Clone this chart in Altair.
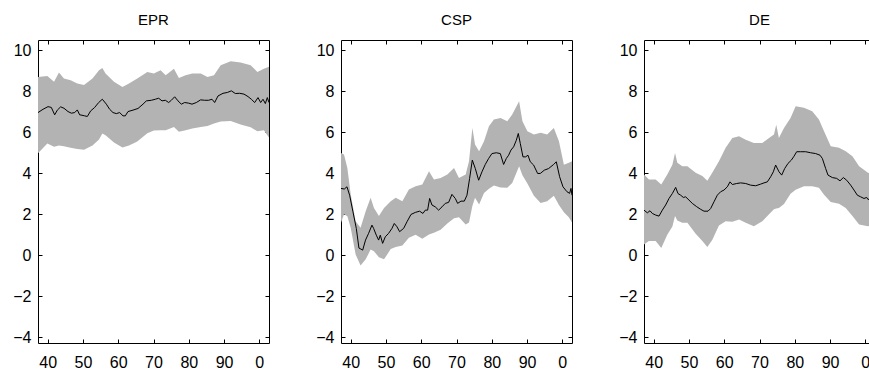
import altair as alt
import pandas as pd

# ---------------- data ----------------
EPR_LINE_YEAR = [1937.25, 1938.67, 1940.09, 1941.03, 1941.98, 1942.73, 1943.68, 1944.62, 1945.76, 1946.70,
                 1947.65, 1948.40, 1949.06, 1949.73, 1950.48, 1951.24, 1952.18, 1953.32, 1954.45, 1955.49,
                 1956.63, 1957.57, 1958.52, 1959.46, 1960.41, 1961.35, 1962.01, 1962.77, 1964.19, 1965.61,
                 1967.02, 1967.97, 1969.39, 1970.52, 1971.47, 1972.41, 1973.36, 1974.30, 1975.06, 1976.00,
                 1976.95, 1977.89, 1978.84, 1979.97, 1980.92, 1982.15, 1983.37, 1984.51, 1985.64, 1986.59,
                 1987.34, 1988.29, 1989.71, 1990.94, 1992.07, 1993.21, 1994.43, 1995.66, 1996.80, 1997.74,
                 1998.69, 1999.63, 2000.39, 2001.05, 2001.71, 2002.28, 2002.75]
EPR_LINE_VAL = [6.96, 7.12, 7.25, 7.21, 6.85, 7.08, 7.24, 7.17, 7.01, 6.93,
                6.96, 7.09, 6.85, 6.83, 6.80, 6.77, 7.04, 7.21, 7.45, 7.61,
                7.37, 7.12, 6.96, 6.91, 6.96, 6.80, 6.80, 7.01, 7.08, 7.16,
                7.37, 7.53, 7.56, 7.61, 7.66, 7.53, 7.56, 7.45, 7.56, 7.73,
                7.53, 7.37, 7.45, 7.42, 7.37, 7.45, 7.58, 7.56, 7.56, 7.61,
                7.45, 7.77, 7.90, 7.94, 8.02, 7.89, 7.90, 7.86, 7.74, 7.61,
                7.45, 7.69, 7.45, 7.61, 7.40, 7.69, 7.45]
EPR_BAND_YEAR = [1937.25, 1939.9, 1941.8, 1943.2, 1944.6, 1946.5, 1948.4, 1950.3, 1952.7, 1954.55,
                 1955.5, 1956.4, 1958.8, 1961.2, 1963.05, 1965.4, 1968.25, 1970.1, 1972.0, 1973.45,
                 1975.8, 1977.2, 1979.1, 1981.0, 1983.4, 1985.3, 1987.15, 1989.05, 1991.9, 1994.7,
                 1997.55, 1999.45, 2001.3, 2002.75]
EPR_BAND_HI = [8.70, 8.75, 8.46, 8.91, 8.62, 8.54, 8.38, 8.30, 8.62, 9.03,
               9.14, 8.86, 8.46, 8.21, 8.38, 8.62, 8.94, 8.86, 9.03, 8.78,
               9.10, 8.65, 8.78, 8.86, 8.86, 8.70, 8.78, 9.27, 9.46, 9.40,
               9.27, 8.94, 9.10, 9.19]
EPR_BAND_LO = [4.97, 5.45, 5.29, 5.35, 5.32, 5.25, 5.18, 5.15, 5.35, 5.65,
               5.94, 5.85, 5.50, 5.26, 5.35, 5.55, 5.95, 6.08, 6.10, 6.10,
               6.26, 6.02, 6.10, 6.18, 6.26, 6.30, 6.43, 6.52, 6.55, 6.38,
               6.25, 6.05, 6.10, 5.75]

CSP_LINE_YEAR = [1937.25, 1938.18, 1938.94, 1939.70, 1940.64, 1941.59, 1942.34, 1942.91, 1943.40, 1944.20,
                 1945.08, 1946.03, 1946.50, 1947.26, 1947.92, 1948.39, 1949.05, 1949.81, 1950.75, 1951.70,
                 1952.36, 1953.12, 1953.87, 1955.01, 1955.95, 1957.09, 1958.32, 1959.54, 1960.49, 1961.15,
                 1961.81, 1962.38, 1963.04, 1963.99, 1964.93, 1965.88, 1966.82, 1967.77, 1968.71, 1969.66,
                 1970.32, 1971.27, 1972.21, 1972.97, 1973.72, 1974.48, 1975.33, 1976.28, 1977.22, 1978.16,
                 1979.11, 1980.05, 1981.28, 1982.42, 1983.36, 1984.12, 1984.78, 1985.44, 1986.20, 1986.96,
                 1987.52, 1988.09, 1988.85, 1989.60, 1990.26, 1990.92, 1991.87, 1993.00, 1993.76, 1994.89,
                 1996.12, 1997.54, 1998.30, 1999.24, 2000.19, 2001.32, 2002.08, 2002.46, 2002.75]
CSP_LINE_VAL = [3.26, 3.23, 3.34, 2.93, 2.12, 1.31, 0.35, 0.30, 0.25, 0.74,
                1.07, 1.47, 1.31, 0.98, 0.74, 0.98, 0.58, 0.90, 1.07, 1.31,
                1.55, 1.39, 1.15, 1.31, 1.63, 1.99, 2.09, 2.15, 2.04, 2.20,
                2.20, 2.77, 2.45, 2.36, 2.20, 2.36, 2.53, 2.58, 2.97, 2.77,
                2.53, 2.64, 2.64, 2.93, 3.75, 4.64, 4.23, 3.66, 4.07, 4.43,
                4.72, 4.96, 5.00, 4.96, 4.43, 4.72, 4.88, 5.13, 5.29, 5.61,
                5.94, 5.45, 4.80, 4.80, 4.88, 4.56, 4.40, 3.99, 3.99, 4.15,
                4.23, 4.43, 4.56, 3.83, 3.34, 3.10, 3.02, 3.26, 2.93]
CSP_BAND_YEAR = [1937.25, 1938.1, 1939.05, 1940.0, 1941.4, 1942.8, 1944.25, 1945.65, 1946.6, 1948.0,
                 1949.45, 1951.35, 1952.75, 1954.65, 1956.5, 1958.4, 1960.3, 1962.2, 1963.6, 1965.5,
                 1967.4, 1969.3, 1970.7, 1972.6, 1973.55, 1974.5, 1975.25, 1976.4, 1977.8, 1979.2,
                 1980.6, 1982.5, 1984.4, 1985.8, 1987.75, 1988.7, 1990.1, 1991.95, 1993.85, 1995.7,
                 1997.6, 1999.05, 2000.45, 2001.85, 2002.75]
CSP_BAND_HI = [4.99, 4.91, 4.26, 2.96, 1.66, 1.34, 2.15, 2.80, 2.31, 1.91,
               2.31, 2.64, 2.80, 2.64, 3.21, 3.37, 3.45, 4.10, 3.69, 3.77,
               3.94, 4.26, 3.77, 3.94, 4.59, 6.21, 5.40, 5.07, 5.56, 6.29,
               6.62, 6.70, 6.54, 6.86, 7.51, 6.54, 6.05, 5.89, 5.97, 5.89,
               6.21, 5.56, 4.42, 4.51, 4.59]
CSP_BAND_LO = [1.58, 2.00, 1.90, 1.34, 0.04, -0.50, -0.20, 0.28, 0.20, -0.10,
               -0.20, 0.30, 0.40, 0.48, 0.85, 1.00, 0.80, 1.01, 1.10, 1.25,
               1.55, 1.80, 1.85, 1.50, 1.60, 2.40, 2.80, 2.47, 3.04, 3.25,
               3.40, 3.30, 3.29, 3.53, 4.34, 3.90, 3.50, 2.90, 2.55, 2.64,
               2.90, 2.45, 2.10, 1.85, 1.60]

DE_LINE_YEAR = [1937.25, 1938.20, 1938.95, 1939.61, 1940.56, 1941.50, 1942.45, 1943.39, 1944.34, 1945.28,
                1946.23, 1946.89, 1947.65, 1948.40, 1949.06, 1950.01, 1950.95, 1952.18, 1953.32, 1954.26,
                1955.40, 1956.15, 1957.10, 1958.04, 1958.99, 1959.93, 1960.88, 1961.64, 1962.30, 1963.53,
                1964.66, 1966.08, 1967.50, 1968.91, 1970.33, 1971.28, 1972.22, 1973.17, 1973.92, 1974.58,
                1975.53, 1976.29, 1977.14, 1978.08, 1979.03, 1979.78, 1980.54, 1981.67, 1983.09, 1984.51,
                1985.93, 1987.16, 1987.82, 1988.76, 1989.42, 1990.65, 1991.88, 1992.83, 1993.77, 1994.72,
                1995.85, 1996.80, 1997.74, 1998.69, 1999.63, 2000.39, 2000.77, 2001.80, 2002.75]
DE_LINE_VAL = [2.20, 2.07, 2.17, 2.04, 1.96, 1.91, 2.20, 2.45, 2.77, 3.01,
               3.31, 3.01, 2.93, 2.82, 2.85, 2.69, 2.53, 2.37, 2.24, 2.15,
               2.15, 2.28, 2.61, 2.93, 3.10, 3.18, 3.34, 3.58, 3.45, 3.50,
               3.53, 3.50, 3.42, 3.39, 3.47, 3.53, 3.58, 3.83, 4.07, 4.40,
               4.07, 3.91, 4.23, 4.48, 4.64, 4.83, 5.05, 5.05, 5.05, 5.00,
               4.96, 4.88, 4.72, 4.23, 3.91, 3.79, 3.75, 3.63, 3.79, 3.66,
               3.42, 3.18, 2.93, 2.85, 2.77, 2.82, 2.72, 2.78, 2.80]
DE_BAND_YEAR = [1937.25, 1938.65, 1940.55, 1942.15, 1943.85, 1945.3, 1946.05, 1946.7, 1948.1, 1949.55,
                1951.9, 1953.8, 1955.2, 1956.6, 1958.5, 1960.4, 1962.3, 1964.2, 1966.1, 1968.4,
                1970.8, 1972.7, 1974.1, 1974.75, 1975.5, 1976.95, 1978.8, 1980.25, 1982.6, 1984.95,
                1986.85, 1988.3, 1990.2, 1992.55, 1994.45, 1996.35, 1998.25, 2000.75, 2002.75]
DE_BAND_HI = [3.94, 3.69, 3.69, 3.45, 3.94, 4.42, 4.99, 4.51, 4.34, 4.34,
              4.02, 3.86, 3.64, 4.02, 4.59, 5.24, 5.72, 5.81, 5.64, 5.48,
              5.48, 5.72, 5.89, 6.37, 5.72, 6.21, 6.70, 7.27, 7.19, 7.02,
              6.62, 6.05, 5.32, 5.24, 5.07, 4.83, 4.34, 4.02, 4.00]
DE_BAND_LO = [0.53, 0.70, 0.69, 0.36, 1.00, 1.40, 1.91, 1.70, 1.58, 1.58,
              1.05, 0.70, 0.40, 0.75, 1.45, 1.66, 1.63, 1.74, 1.58, 1.42,
              1.66, 2.00, 2.25, 2.28, 2.31, 2.50, 3.00, 3.20, 3.37, 3.37,
              3.29, 2.95, 2.60, 2.51, 2.31, 1.91, 1.50, 1.42, 1.45]

PANEL_TITLES = ["EPR", "CSP", "DE"]
X_TICKS = [1940, 1950, 1960, 1970, 1980, 1990, 2000]
Y_TICKS = [-4, -2, 0, 2, 4, 6, 8, 10]
X_DOMAIN = [1937.25, 2002.75]
Y_DOMAIN = [-4.28, 10.5]

FONT = "Liberation Sans, Arial, Helvetica, sans-serif"
BAND_COLOR = "#b3b3b3"


def panel(title, ly, lv, by, bh, bl):
    line_df = pd.DataFrame({"year": ly, "value": lv})
    band_df = pd.DataFrame({"year": by, "hi": bh, "lo": bl})
    xs = alt.Scale(domain=X_DOMAIN, nice=False, zero=False)
    ys = alt.Scale(domain=Y_DOMAIN, nice=False, zero=False)

    common = dict(title=None, domain=False, grid=False, offset=-4, tickSize=4,
                  tickColor="black", tickWidth=1, labelFlush=False, labelOverlap=False)
    bottom_axis = alt.Axis(orient="bottom", values=X_TICKS, labelExpr="'' + (datum.value % 100)",
                           labelPadding=11, labelFontSize=16, labelFont=FONT, labelColor="black",
                           **common)
    left_axis = alt.Axis(orient="left", values=Y_TICKS, labelPadding=7, labelFontSize=16,
                         labelFont=FONT, labelColor="black", **common)
    top_axis = alt.Axis(orient="top", values=X_TICKS, labels=False, **common)
    right_axis = alt.Axis(orient="right", values=Y_TICKS, labels=False, **common)

    band = alt.Chart(band_df).mark_area(color=BAND_COLOR, clip=True).encode(
        x=alt.X("year:Q", scale=xs, axis=top_axis),
        y=alt.Y("hi:Q", scale=ys, axis=right_axis),
        y2="lo:Q",
    )
    line = alt.Chart(line_df).mark_line(color="black", strokeWidth=1, clip=True).encode(
        x=alt.X("year:Q", scale=xs, axis=bottom_axis),
        y=alt.Y("value:Q", scale=ys, axis=left_axis),
    )
    return (
        alt.layer(band, line)
        .resolve_axis(x="independent", y="independent")
        .properties(
            width=231,
            height=303,
            title=alt.TitleParams(title, fontSize=15, font=FONT, fontWeight="normal",
                                  color="black", offset=12, anchor="middle"),
        )
    )


panels = [
    panel(PANEL_TITLES[0], EPR_LINE_YEAR, EPR_LINE_VAL, EPR_BAND_YEAR, EPR_BAND_HI, EPR_BAND_LO),
    panel(PANEL_TITLES[1], CSP_LINE_YEAR, CSP_LINE_VAL, CSP_BAND_YEAR, CSP_BAND_HI, CSP_BAND_LO),
    panel(PANEL_TITLES[2], DE_LINE_YEAR, DE_LINE_VAL, DE_BAND_YEAR, DE_BAND_HI, DE_BAND_LO),
]

# The reference is cut off at the right edge of an 869 px window: fix the canvas
# to 869 x 374 (autosize none: canvas = padding only) so the last panel is clipped.
chart = (
    alt.hconcat(*panels, spacing=45)
    .properties(
        autosize=alt.AutoSizeParams(type="none"),
        padding={"left": 38, "top": 40, "right": 831, "bottom": 334},
        background="white",
    )
    .configure_view(stroke="black", strokeWidth=1)
)

chart.save("out.html", embed_options={"renderer": "svg", "actions": False})
